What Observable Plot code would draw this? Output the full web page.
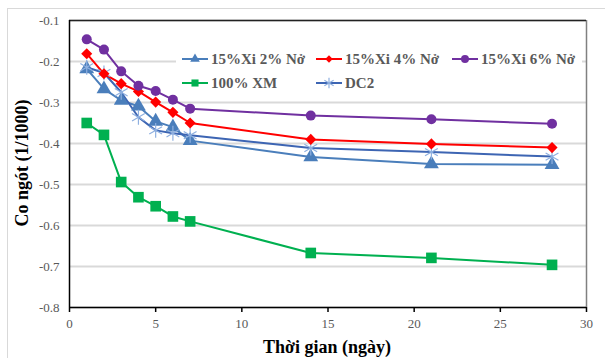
<!DOCTYPE html>
<html>
<head>
<meta charset="utf-8">
<script src="https://cdn.jsdelivr.net/npm/d3@7"></script>
<script src="https://cdn.jsdelivr.net/npm/@observablehq/plot@0.6"></script>
<style>
  html, body { margin: 0; padding: 0; background: #fff; }
  #wrap { position: relative; width: 605px; height: 358px; overflow: hidden; }
  #outer { position: absolute; left: 7px; top: 8px; width: 620px; height: 400px; border: 1px solid #d9d9d9; box-sizing: border-box; }
  #chart { position: absolute; left: 0; top: 0; }
  #chart svg, #chart svg text { font-family: "Liberation Serif", "Times New Roman", serif !important; }
</style>
</head>
<body>
<div id="wrap"><div id="outer"></div><div id="chart"></div></div>
<script>
const days = [1, 2, 3, 4, 5, 6, 7, 14, 21, 28];
const seriesNames = ["15%Xi 2% Nở", "15%Xi 4% Nở", "15%Xi 6% Nở", "100% XM", "DC2"];
const xi2 = [-0.218, -0.267, -0.295, -0.309, -0.346, -0.360, -0.393, -0.433, -0.450, -0.452];
const xi4 = [-0.181, -0.230, -0.254, -0.273, -0.299, -0.324, -0.350, -0.390, -0.401, -0.410];
const xi6 = [-0.146, -0.171, -0.224, -0.259, -0.272, -0.293, -0.315, -0.332, -0.341, -0.352];
const xm100 = [-0.350, -0.379, -0.494, -0.531, -0.553, -0.578, -0.590, -0.667, -0.679, -0.696];
const dc2 = [-0.214, -0.228, -0.275, -0.336, -0.368, -0.375, -0.380, -0.411, -0.421, -0.432];
const xTicks = [0, 5, 10, 15, 20, 25, 30];
const yTicks = [-0.8, -0.7, -0.6, -0.5, -0.4, -0.3, -0.2, -0.1];

const toRows = (vals) => days.map((d, i) => ({day: d, v: vals[i]}));
const sXi2 = toRows(xi2), sXi4 = toRows(xi4), sXi6 = toRows(xi6), sXM = toRows(xm100), sDC2 = toRows(dc2);

const C = {xi2: "#4a7ebb", xi4: "#ff0000", xi6: "#7030a0", xm: "#00b050", dc2: "#3d65b3", star: "#8fb0e0"};

const plot = Plot.plot({
  width: 605, height: 358,
  marginLeft: 69, marginRight: 19, marginTop: 20, marginBottom: 51,
  style: {fontFamily: "'Liberation Serif', 'Times New Roman', serif", fontSize: "13px", color: "#595959", background: "transparent"},
  x: {domain: [0, 30]},
  y: {domain: [-0.8, -0.1]},
  marks: [
    Plot.gridY(yTicks, {stroke: "#d9d9d9", strokeOpacity: 1, strokeWidth: 2}),
    Plot.axisX({ticks: xTicks, tickSize: 5, tickPadding: 6, label: null, stroke: "#000", strokeWidth: 1.5}),
    Plot.axisY({ticks: yTicks, tickSize: 0, tickPadding: 10, label: null, tickFormat: d => d.toFixed(1)}),
    Plot.line(sXM, {x: "day", y: "v", stroke: C.xm, strokeWidth: 2}),
    Plot.line(sXi2, {x: "day", y: "v", stroke: C.xi2, strokeWidth: 2}),
    Plot.line(sDC2, {x: "day", y: "v", stroke: C.dc2, strokeWidth: 2}),
    Plot.line(sXi4, {x: "day", y: "v", stroke: C.xi4, strokeWidth: 2}),
    Plot.line(sXi6, {x: "day", y: "v", stroke: C.xi6, strokeWidth: 2}),
    Plot.dot(sXM, {x: "day", y: "v", symbol: "square", fill: C.xm, r: 6}),
    Plot.dot(sXi2, {x: "day", y: "v", symbol: "triangle", fill: C.xi2, r: 5.5}),
    Plot.dot(sDC2, {x: "day", y: "v", symbol: "asterisk", stroke: C.star, strokeWidth: 1.2, r: 7}),
    Plot.dot(sXi4, {x: "day", y: "v", symbol: "diamond2", fill: C.xi4, r: 5}),
    Plot.dot(sXi6, {x: "day", y: "v", symbol: "circle", fill: C.xi6, r: 5}),
    Plot.ruleX([30], {stroke: "#808080", strokeWidth: 1.5}),
    Plot.ruleY([-0.1], {stroke: "#222", strokeWidth: 1.5}),
    Plot.ruleX([0], {stroke: "#000", strokeWidth: 1.5}),
    Plot.ruleY([-0.8], {stroke: "#000", strokeWidth: 1.5})
  ]
});
document.getElementById("chart").appendChild(plot);

const svg = d3.select(plot);
const serif = "'Liberation Serif', 'Times New Roman', serif";
// Axis titles
svg.append("text").attr("x", 327).attr("y", 353).attr("text-anchor", "middle")
  .attr("font-family", serif).attr("font-weight", "bold").attr("font-size", "18px").attr("fill", "#000")
  .text("Thời gian (ngày)");
svg.append("text").attr("transform", "translate(28,163) rotate(-90)").attr("text-anchor", "middle")
  .attr("font-family", serif).attr("font-weight", "bold").attr("font-size", "18px").attr("fill", "#000")
  .text("Co ngót (1/1000)");

// Legend
const lg = svg.append("g").attr("text-anchor", "start");
lg.append("rect").attr("x", 176).attr("y", 44).attr("width", 406).attr("height", 52).attr("fill", "#fff");
const legendItems = [
  {name: seriesNames[0], x: 182, y: 59, color: C.xi2, sym: d3.symbolTriangle, fill: C.xi2, size: 40},
  {name: seriesNames[1], x: 316, y: 59, color: C.xi4, sym: d3.symbolDiamond2, fill: C.xi4, size: 36},
  {name: seriesNames[2], x: 452, y: 59, color: C.xi6, sym: d3.symbolCircle, fill: C.xi6, size: 50},
  {name: seriesNames[3], x: 182, y: 83, color: C.xm, sym: d3.symbolSquare, fill: C.xm, size: 50},
  {name: seriesNames[4], x: 316, y: 83, color: C.dc2, sym: d3.symbolAsterisk, stroke: C.star, size: 80}
];
for (const it of legendItems) {
  lg.append("line").attr("x1", it.x).attr("x2", it.x + 26).attr("y1", it.y).attr("y2", it.y)
    .attr("stroke", it.color).attr("stroke-width", 2);
  lg.append("path").attr("d", d3.symbol(it.sym, it.size)())
    .attr("transform", `translate(${it.x + 13},${it.y})`)
    .attr("fill", it.fill || "none").attr("stroke", it.stroke || "none").attr("stroke-width", 1.2);
  lg.append("text").attr("x", it.x + 29).attr("y", it.y + 5).attr("text-anchor", "start")
    .attr("font-family", serif).attr("font-weight", "bold").attr("font-size", "15px").attr("fill", "#595959")
    .text(it.name);
}
</script>
</body>
</html>
